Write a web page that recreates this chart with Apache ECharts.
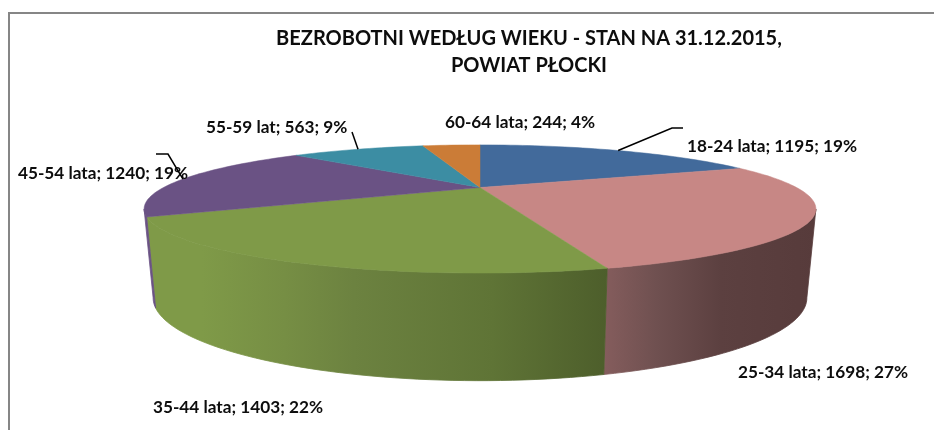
<!DOCTYPE html>
<html>
<head>
<meta charset="utf-8">
<style>
html,body{margin:0;padding:0;background:#fff;}
#main{width:934px;height:430px;}
</style>
<script src="https://cdn.jsdelivr.net/npm/echarts@6/dist/echarts.min.js"></script>
</head>
<body>
<div id="main"></div>
<script>
const categories = ['18-24 lata', '25-34 lata', '35-44 lata', '45-54 lata', '55-59 lat', '60-64 lata'];
const values = [1195, 1698, 1403, 1240, 563, 244];
// percents as printed on the chart (45-54 says 19, not the rounded 20)
const percents = [19, 27, 22, 19, 9, 4];

const titleText = 'BEZROBOTNI WEDŁUG WIEKU - STAN NA 31.12.2015,\nPOWIAT PŁOCKI';

// styles, same order as categories
const topColors = ['#426A9B', '#C78785', '#7F9A48', '#6A5284', '#3C8DA3', '#CB7C37'];
const sideStops = [
    null,
    [[0, '#855D5D'], [0.25, '#6F5050'], [0.55, '#5C4040'], [1, '#573B3B']],
    [[0, '#7F9A48'], [0.12, '#7F9A48'], [0.3, '#768E44'], [0.45, '#6C8240'], [0.75, '#5F7436'], [1, '#4D5E2B']],
    [[0, '#6A5284'], [1, '#6A5284']],
    null,
    null
];
const labelPos = [[687, 146], [738, 372], [153, 407], [18, 173], [206, 127], [445, 122]];
// leader lines: where they go after leaving the slice
const leaders = [[[672, 128], [683, 128]], null, null, [[168, 154], [156, 154]], [[352, 132]], null];

// the pie is a tilted disc seen in perspective, top and bottom face
const topFace = {cx: 480, cy: 187.5, fx: 316.5, fy: 56.9, k: 0.335};
const bottomFace = {cx: 480, cy: 270, fx: 308, fy: 73.6, k: 0.335};
const edgeAngle = Math.acos(-topFace.k) * 180 / Math.PI;

function project(face, deg){
    const a = deg * Math.PI / 180;
    const X = Math.sin(a), Y = -Math.cos(a);
    const d = 1 - face.k * Y;
    return [face.cx + face.fx * X / d, face.cy + face.fy * Y / d];
}

function arc(face, from, to){
    const pts = [];
    const n = Math.max(2, Math.ceil((to - from) / 1.5));
    for(let i = 0; i <= n; i++){
        pts.push(project(face, from + (to - from) * i / n));
    }
    return pts;
}

const total = values.reduce((s, v) => s + v, 0);

function renderSlice(params, api){
    const i = params.dataIndex;
    let before = 0;
    for(let j = 0; j < i; j++){
        before += values[j];
    }
    const start = before / total * 360;
    const end = (before + api.value(0)) / total * 360;
    const children = [];

    const from = Math.max(start, edgeAngle);
    const to = Math.min(end, 360 - edgeAngle);
    if(sideStops[i] && from < to){
        const wall = arc(topFace, from, to).concat(arc(bottomFace, from, to).reverse());
        const wallFill = new echarts.graphic.LinearGradient(0, 0, 1, 0,
            sideStops[i].map(s => ({offset: s[0], color: s[1]})));
        children.push({
            type: 'polygon',
            shape: {points: wall},
            style: {fill: wallFill, stroke: wallFill, lineWidth: 0.8}
        });
    }

    children.push({
        type: 'polygon',
        shape: {points: [[topFace.cx, topFace.cy]].concat(arc(topFace, start, end))},
        style: {fill: topColors[i], stroke: topColors[i], lineWidth: 0.5}
    });

    children.push({
        type: 'text',
        style: {
            x: labelPos[i][0],
            y: labelPos[i][1],
            text: categories[i] + '; ' + api.value(0) + '; ' + percents[i] + '%',
            fill: '#0d0d0d',
            font: 'bold 17.2px Lato',
            align: 'left',
            verticalAlign: 'middle'
        }
    });

    if(leaders[i]){
        children.push({
            type: 'polyline',
            shape: {points: [project(topFace, (start + end) / 2)].concat(leaders[i])},
            style: {fill: null, stroke: '#000', lineWidth: 1.5}
        });
    }
    return {type: 'group', children: children};
}

const chart = echarts.init(document.getElementById('main'));
chart.setOption({
    backgroundColor: '#fff',
    animation: false,
    title: {
        text: titleText,
        left: 524,
        top: 20,
        textAlign: 'center',
        textStyle: {
            fontFamily: 'Lato',
            fontWeight: 'bold',
            fontSize: 20,
            lineHeight: 27,
            color: '#0d0d0d'
        }
    },
    graphic: [
        {type: 'line', shape: {x1: 9, y1: 13, x2: 9, y2: 430}, style: {stroke: '#868686', lineWidth: 2}},
        {type: 'line', shape: {x1: 8, y1: 13, x2: 934, y2: 13}, style: {stroke: '#868686', lineWidth: 2}}
    ],
    series: [
        {
            type: 'custom',
            coordinateSystem: 'none',
            data: values.map(v => [v]),
            renderItem: renderSlice
        }
    ]
});
</script>
</body>
</html>
